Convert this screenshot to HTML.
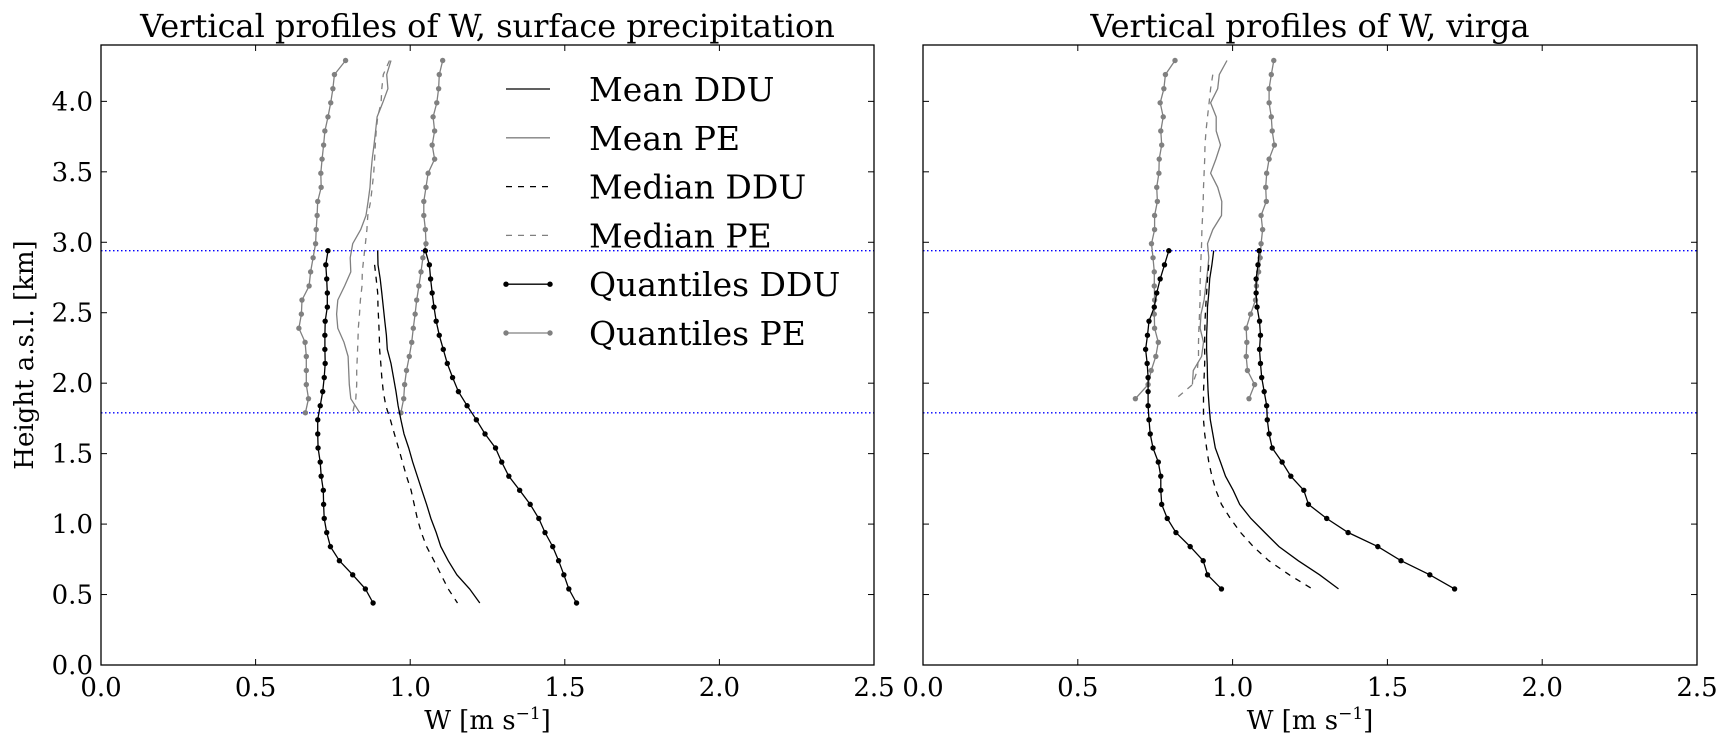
<!DOCTYPE html>
<html><head><meta charset="utf-8">
<style>
html,body{margin:0;padding:0;background:#fff;}
svg{display:block;font-family:"DejaVu Serif","Liberation Serif",serif;}
</style></head>
<body>
<svg id="fig" width="1733" height="751" viewBox="0 0 1733 751" xmlns="http://www.w3.org/2000/svg"></svg>
<script>
// ---------- data ----------
const xTicks = [0.0, 0.5, 1.0, 1.5, 2.0, 2.5];
const xTickLabels = ["0.0","0.5","1.0","1.5","2.0","2.5"];
const yTicks = [0.0,0.5,1.0,1.5,2.0,2.5,3.0,3.5,4.0];
const yTickLabels = ["0.0","0.5","1.0","1.5","2.0","2.5","3.0","3.5","4.0"];
const refLines = [2.94, 1.79];

// left panel (surface precipitation)
const hL_ddu = [2.94,2.84,2.74,2.64,2.54,2.44,2.34,2.24,2.14,2.04,1.94,1.84,1.74,1.64,1.54,1.44,1.34,1.24,1.14,1.04,0.94,0.84,0.74,0.64,0.54,0.44];
const hL_ddu_med = [2.84,2.74,2.64,2.54,2.44,2.34,2.24,2.14,2.04,1.94,1.84,1.74,1.64,1.54,1.44,1.34,1.24,1.14,1.04,0.94,0.84,0.74,0.64,0.54,0.44];
const hL_pe = [4.29,4.19,4.09,3.99,3.89,3.79,3.69,3.59,3.49,3.39,3.29,3.19,3.09,2.99,2.89,2.79,2.69,2.59,2.49,2.39,2.29,2.19,2.09,1.99,1.89,1.79];
const L_qloDDU = [0.734,0.727,0.730,0.732,0.732,0.725,0.724,0.724,0.725,0.722,0.717,0.709,0.701,0.701,0.702,0.709,0.712,0.719,0.720,0.722,0.730,0.742,0.771,0.814,0.855,0.880];
const L_qhiDDU = [1.049,1.062,1.066,1.071,1.077,1.084,1.094,1.107,1.120,1.137,1.156,1.184,1.214,1.242,1.276,1.296,1.319,1.354,1.388,1.416,1.436,1.461,1.480,1.497,1.513,1.538];
const L_meanDDU = [0.895,0.896,0.903,0.908,0.913,0.918,0.923,0.926,0.938,0.946,0.954,0.961,0.970,0.980,0.995,1.008,1.023,1.038,1.053,1.067,1.084,1.099,1.123,1.151,1.192,1.225];
const L_medDDU = [0.885,0.890,0.895,0.896,0.898,0.900,0.901,0.905,0.908,0.913,0.921,0.936,0.949,0.962,0.975,0.988,1.003,1.013,1.023,1.036,1.053,1.077,1.100,1.123,1.153];
const L_qloPE = [0.791,0.755,0.750,0.743,0.734,0.724,0.720,0.715,0.711,0.712,0.701,0.699,0.696,0.694,0.686,0.678,0.673,0.650,0.648,0.640,0.660,0.664,0.664,0.664,0.671,0.661];
const L_qhiPE = [1.105,1.094,1.092,1.086,1.074,1.079,1.071,1.079,1.058,1.051,1.044,1.044,1.049,1.051,1.041,1.035,1.028,1.021,1.016,1.010,1.005,0.997,0.988,0.982,0.979,0.970];
const L_meanPE = [0.938,0.924,0.928,0.911,0.893,0.888,0.883,0.877,0.873,0.870,0.864,0.857,0.840,0.814,0.806,0.808,0.788,0.766,0.762,0.766,0.786,0.799,0.801,0.803,0.808,0.837];
const L_medPE = [0.933,0.913,0.908,0.906,0.895,0.890,0.887,0.885,0.882,0.877,0.872,0.863,0.860,0.855,0.850,0.845,0.844,0.839,0.836,0.832,0.831,0.829,0.827,0.827,0.824,0.814];

// right panel (virga)
const hR_ddu = [2.94,2.84,2.74,2.64,2.54,2.44,2.34,2.24,2.14,2.04,1.94,1.84,1.74,1.64,1.54,1.44,1.34,1.24,1.14,1.04,0.94,0.84,0.74,0.64,0.54];
const hR_ddu_med = [2.84,2.74,2.64,2.54,2.44,2.34,2.24,2.14,2.04,1.94,1.84,1.74,1.64,1.54,1.44,1.34,1.24,1.14,1.04,0.94,0.84,0.74,0.64,0.54];
const hR_pe = [4.29,4.19,4.09,3.99,3.89,3.79,3.69,3.59,3.49,3.39,3.29,3.19,3.09,2.99,2.89,2.79,2.69,2.59,2.49,2.39,2.29,2.19,2.09,1.99,1.89];
const hR_pe_mean = [4.29,4.19,4.09,3.99,3.89,3.79,3.69,3.59,3.49,3.39,3.29,3.19,3.09,2.99,2.89,2.79,2.69,2.59,2.49,2.39,2.29,2.19,2.09,1.99];
const hR_pe_med = [4.19,4.09,3.99,3.89,3.79,3.69,3.59,3.49,3.39,3.29,3.19,3.09,2.99,2.89,2.79,2.69,2.59,2.49,2.39,2.29,2.19,2.09,1.99,1.89];
const R_qloDDU = [0.794,0.780,0.766,0.755,0.747,0.730,0.725,0.719,0.724,0.727,0.727,0.727,0.730,0.734,0.743,0.760,0.768,0.768,0.771,0.789,0.817,0.863,0.905,0.919,0.964];
const R_qhiDDU = [1.086,1.082,1.076,1.076,1.079,1.087,1.090,1.087,1.090,1.094,1.102,1.110,1.112,1.118,1.128,1.160,1.188,1.230,1.245,1.304,1.373,1.469,1.544,1.637,1.717];
const R_meanDDU = [0.939,0.933,0.926,0.923,0.919,0.918,0.916,0.916,0.918,0.919,0.921,0.924,0.928,0.936,0.944,0.961,0.977,1.002,1.023,1.059,1.104,1.150,1.212,1.281,1.342];
const R_medDDU = [0.923,0.919,0.916,0.913,0.911,0.910,0.910,0.910,0.908,0.906,0.906,0.906,0.910,0.916,0.923,0.933,0.946,0.964,0.993,1.026,1.067,1.117,1.183,1.257];
const R_qloPE = [0.814,0.783,0.778,0.766,0.776,0.768,0.771,0.763,0.762,0.755,0.757,0.748,0.748,0.738,0.743,0.747,0.747,0.748,0.747,0.748,0.760,0.752,0.737,0.727,0.686];
const R_qhiPE = [1.133,1.125,1.118,1.118,1.125,1.128,1.135,1.118,1.110,1.107,1.109,1.092,1.097,1.092,1.089,1.084,1.077,1.074,1.058,1.044,1.046,1.044,1.048,1.071,1.053];
const R_meanPE = [0.982,0.957,0.952,0.929,0.947,0.947,0.961,0.946,0.929,0.952,0.965,0.964,0.936,0.919,0.923,0.919,0.913,0.908,0.898,0.895,0.906,0.900,0.873,0.870];
const R_medPE = [0.936,0.929,0.924,0.919,0.914,0.911,0.910,0.908,0.906,0.905,0.903,0.901,0.900,0.898,0.896,0.895,0.895,0.893,0.891,0.890,0.890,0.886,0.870,0.817];

const legendLabels = ["Mean DDU","Mean PE","Median DDU","Median PE","Quantiles DDU","Quantiles PE"];

// ---------- drawing ----------
const NS = "http://www.w3.org/2000/svg";
const svg = document.getElementById("fig");
function mk(tag, attrs, parent){ const e=document.createElementNS(NS,tag); for(const k in attrs) e.setAttribute(k,attrs[k]); (parent||svg).appendChild(e); return e; }

const Y0=665, Y1=45, HMAX=4.4, WMAX=2.5;
const yS = h => Y0 - (h/HMAX)*(Y0-Y1);
function xScaleFor(x0,x1){ return w => x0 + (w/WMAX)*(x1-x0); }

const GRAY="#808080";

function drawPanel(x0,x1,title,name,showY,series){
  const xS = xScaleFor(x0,x1);
  const g = mk("g",{});
  
  
  refLines.forEach((h,i)=>{
    const l = mk("line",{x1:x0,x2:x1,y1:yS(h),y2:yS(h),stroke:"#0000ff","stroke-width":1.4,"stroke-dasharray":"1.5,2.5"},g);
    
    
  });
  series.forEach(s=>{
    const pts = s.w.map((w,i)=>xS(w).toFixed(1)+","+yS(s.h[i]).toFixed(1)).join(" ");
    const pl = mk("polyline",{points:pts,fill:"none",stroke:s.c,"stroke-width":1.3,"stroke-dasharray":s.dash||"none"},g);
    
    
    if(s.m){
      s.w.forEach((w,i)=>{
        const c = mk("circle",{cx:xS(w),cy:yS(s.h[i]),r:2.7,fill:s.c},g);
        
        
      });
    }
  });
  const fr = mk("rect",{x:x0,y:Y1,width:x1-x0,height:Y0-Y1,fill:"none",stroke:"#000","stroke-width":1.3},g);
  
  
  xTicks.forEach((t,i)=>{
    const x=xS(t);
    mk("line",{x1:x,x2:x,y1:Y0,y2:Y0-6,stroke:"#000","stroke-width":1},g);
    mk("line",{x1:x,x2:x,y1:Y1,y2:Y1+6,stroke:"#000","stroke-width":1},g);
    const tx = mk("text",{x:x,y:Y0+31,"font-size":26,"text-anchor":"middle",fill:"#000"},g);
    tx.textContent = xTickLabels[i];
    
    
  });
  yTicks.forEach((t,i)=>{
    const y=yS(t);
    mk("line",{x1:x0,x2:x0+6,y1:y,y2:y,stroke:"#000","stroke-width":1},g);
    mk("line",{x1:x1,x2:x1-6,y1:y,y2:y,stroke:"#000","stroke-width":1},g);
    if(showY){
      const ty = mk("text",{x:x0-8,y:y+9,"font-size":26,"text-anchor":"end",fill:"#000"},g);
      ty.textContent = yTickLabels[i];
      
      
    }
  });
  const tt = mk("text",{x:(x0+x1)/2,y:37,"font-size":32,"text-anchor":"middle",fill:"#000"},g);
  tt.textContent = title;
  
  
  const xl = mk("text",{x:(x0+x1)/2,y:729,"font-size":26,"text-anchor":"middle",fill:"#000"},g);
  xl.innerHTML = 'W [m s<tspan dy="-10" font-size="17">\u22121</tspan><tspan dy="10">]</tspan>';
  
  
  return xS;
}

drawPanel(101,874,"Vertical profiles of W, surface precipitation","left-panel",true,[
  {n:"quantile-low-pe",w:L_qloPE,h:hL_pe,c:GRAY,m:true},
  {n:"quantile-high-pe",w:L_qhiPE,h:hL_pe,c:GRAY,m:true},
  {n:"mean-pe",w:L_meanPE,h:hL_pe,c:GRAY},
  {n:"median-pe",w:L_medPE,h:hL_pe,c:GRAY,dash:"6,6"},
  {n:"quantile-low-ddu",w:L_qloDDU,h:hL_ddu,c:"#000",m:true},
  {n:"quantile-high-ddu",w:L_qhiDDU,h:hL_ddu,c:"#000",m:true},
  {n:"mean-ddu",w:L_meanDDU,h:hL_ddu,c:"#000"},
  {n:"median-ddu",w:L_medDDU,h:hL_ddu_med,c:"#000",dash:"6,6"}
]);
drawPanel(923,1697,"Vertical profiles of W, virga","right-panel",false,[
  {n:"quantile-low-pe",w:R_qloPE,h:hR_pe,c:GRAY,m:true},
  {n:"quantile-high-pe",w:R_qhiPE,h:hR_pe,c:GRAY,m:true},
  {n:"mean-pe",w:R_meanPE,h:hR_pe_mean,c:GRAY},
  {n:"median-pe",w:R_medPE,h:hR_pe_med,c:GRAY,dash:"6,6"},
  {n:"quantile-low-ddu",w:R_qloDDU,h:hR_ddu,c:"#000",m:true},
  {n:"quantile-high-ddu",w:R_qhiDDU,h:hR_ddu,c:"#000",m:true},
  {n:"mean-ddu",w:R_meanDDU,h:hR_ddu,c:"#000"},
  {n:"median-ddu",w:R_medDDU,h:hR_ddu_med,c:"#000",dash:"6,6"}
]);

const yt = mk("text",{x:0,y:0,"font-size":26,"text-anchor":"middle",fill:"#000",transform:"translate(33,355) rotate(-90)"});
yt.textContent = "Height a.s.l. [km]";



const legStyles = [
  {c:"#000"},{c:GRAY},{c:"#000",dash:"6,6"},{c:GRAY,dash:"6,6"},{c:"#000",m:true},{c:GRAY,m:true}
];
const lg = mk("g",{});


legendLabels.forEach((lab,i)=>{
  const y = 89 + i*48.8;
  const s = legStyles[i];
  const ln = mk("line",{x1:506,x2:550,y1:y,y2:y,stroke:s.c,"stroke-width":1.3,"stroke-dasharray":s.dash||"none"},lg);
  
  
  if(s.m){
    mk("circle",{cx:506,cy:y,r:2.7,fill:s.c},lg);
    mk("circle",{cx:550,cy:y,r:2.7,fill:s.c},lg);
  }
  const t = mk("text",{x:589,y:y+12,"font-size":33,fill:"#000"},lg);
  t.textContent = lab;
  
  
});
</script>
</body></html>
